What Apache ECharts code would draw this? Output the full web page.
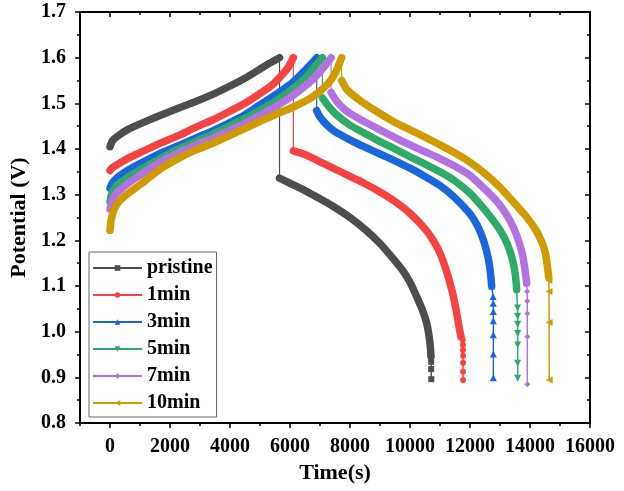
<!DOCTYPE html>
<html>
<head>
<meta charset="utf-8">
<script src="https://cdn.jsdelivr.net/npm/echarts@6/dist/echarts.min.js"></script>
<style>html,body{margin:0;padding:0;background:#fff}#c{width:624px;height:491px}</style>
</head>
<body>
<div id="c"></div>
<script>
// ---- data: [time (s), potential (V)] ----
const names = ['pristine', '1min', '3min', '5min', '7min', '10min'];
const colors = ['#4D4D4D', '#F74242', '#1A66DD', '#2EAA69', '#B372E0', '#D09B00'];
const symbols = ['rect', 'circle', 'triangle', 'triangle', 'diamond', 'triangle'];
const symbolRotations = [0, 0, 0, 180, 0, 90];

const xMajorTicks = [0, 2000, 4000, 6000, 8000, 10000, 12000, 14000, 16000];
const xMinorTicks = [-1000, 1000, 3000, 5000, 7000, 9000, 11000, 13000, 15000];

const pristineCharge = [[0,1.405],[80,1.418],[250,1.428],[600,1.443],[1000,1.455],[1500,1.469],[2000,1.482],[2500,1.495],[3000,1.508],[3500,1.522],[4000,1.538],[4500,1.555],[5000,1.575],[5300,1.587],[5650,1.600]];
const pristineDischarge = [[5650,1.336],[6000,1.325],[6500,1.309],[7000,1.291],[7500,1.272],[8000,1.250],[8500,1.224],[9000,1.193],[9500,1.155],[9800,1.130],[10000,1.108],[10200,1.080],[10400,1.050],[10550,1.020],[10630,0.993],[10680,0.965],[10700,0.945]];
const pristineTail = [[10700,0.945],[10705,0.934],[10705,0.918],[10710,0.896]];

const min1Charge = [[0,1.353],[100,1.360],[300,1.368],[611,1.380],[1000,1.392],[1722,1.414],[2300,1.430],[2833,1.447],[3400,1.463],[3944,1.481],[4500,1.500],[5056,1.524],[5400,1.540],[5700,1.560],[5950,1.580],[6111,1.600]];
const min1Discharge = [[6111,1.396],[6500,1.388],[7000,1.372],[7500,1.356],[8000,1.340],[8500,1.324],[9000,1.306],[9500,1.285],[10000,1.259],[10500,1.225],[10800,1.197],[11000,1.172],[11200,1.136],[11400,1.090],[11550,1.043],[11650,1.005],[11700,0.989]];
const min1Tail = [[11700,0.989],[11760,0.982],[11765,0.971],[11765,0.960],[11770,0.947],[11770,0.932],[11770,0.912],[11770,0.894]];

const min3Charge = [[0,1.314],[80,1.326],[250,1.338],[611,1.354],[1000,1.368],[1722,1.392],[2300,1.408],[2833,1.423],[3400,1.439],[3944,1.456],[4500,1.475],[5000,1.497],[5500,1.518],[6111,1.547],[6500,1.572],[6700,1.586],[6889,1.600]];
const min3Discharge = [[6889,1.484],[7000,1.470],[7222,1.453],[7500,1.438],[8000,1.420],[8500,1.404],[9000,1.389],[9500,1.374],[10000,1.358],[10500,1.340],[11000,1.320],[11500,1.293],[12000,1.258],[12250,1.232],[12450,1.200],[12600,1.163],[12680,1.130],[12722,1.100]];
const min3Tail = [[12722,1.100],[12770,1.077],[12775,1.062],[12778,1.044],[12778,1.024],[12778,0.993],[12778,0.951],[12778,0.899]];

const min5Charge = [[0,1.285],[60,1.302],[200,1.318],[611,1.339],[1000,1.354],[1722,1.381],[2300,1.400],[2833,1.416],[3400,1.432],[3944,1.449],[4500,1.467],[5056,1.487],[5600,1.508],[6111,1.533],[6500,1.555],[6778,1.577],[7080,1.600]];
const min5Discharge = [[7080,1.512],[7222,1.499],[7500,1.478],[8000,1.452],[8500,1.434],[9000,1.416],[9500,1.400],[10000,1.383],[10500,1.367],[11000,1.350],[11500,1.330],[12000,1.303],[12500,1.266],[12900,1.232],[13150,1.205],[13333,1.176],[13450,1.148],[13520,1.120],[13556,1.092]];
const min5Tail = [[13556,1.092],[13585,1.052],[13588,1.034],[13590,1.016],[13590,0.996],[13590,0.971],[13590,0.931],[13590,0.898]];

const min7Charge = [[0,1.268],[60,1.285],[200,1.302],[611,1.325],[1000,1.343],[1722,1.373],[2300,1.392],[2833,1.408],[3400,1.423],[3944,1.439],[4500,1.456],[5056,1.476],[5600,1.496],[6111,1.518],[6600,1.543],[7000,1.569],[7200,1.585],[7370,1.600]];
const min7Discharge = [[7370,1.524],[7550,1.505],[7778,1.489],[8000,1.478],[8500,1.459],[9000,1.442],[9500,1.425],[10000,1.409],[10500,1.394],[11000,1.379],[11500,1.362],[12000,1.342],[12500,1.312],[12900,1.285],[13200,1.258],[13450,1.228],[13650,1.193],[13760,1.165],[13833,1.135],[13889,1.106]];
const min7Tail = [[13889,1.106],[13905,1.088],[13908,1.067],[13910,1.040],[13910,0.989],[13910,0.885]];

const min10Charge = [[0,1.222],[40,1.245],[120,1.265],[300,1.285],[611,1.303],[1000,1.322],[1722,1.358],[2300,1.380],[2833,1.397],[3400,1.412],[3944,1.428],[4500,1.445],[5056,1.462],[5600,1.478],[6111,1.492],[6700,1.512],[7222,1.540],[7500,1.565],[7722,1.600]];
const min10Discharge = [[7722,1.550],[7900,1.530],[8300,1.508],[8800,1.486],[9400,1.462],[10000,1.442],[10500,1.426],[11000,1.409],[11500,1.391],[12000,1.371],[12500,1.346],[13000,1.316],[13500,1.280],[13900,1.250],[14200,1.222],[14400,1.195],[14500,1.176],[14578,1.145],[14620,1.120]];
const min10Tail = [[14620,1.120],[14630,1.112],[14633,1.088],[14638,1.020],[14640,0.894]];

const charges = [pristineCharge, min1Charge, min3Charge, min5Charge, min7Charge, min10Charge];
const discharges = [pristineDischarge, min1Discharge, min3Discharge, min5Discharge, min7Discharge, min10Discharge];
const tails = [pristineTail, min1Tail, min3Tail, min5Tail, min7Tail, min10Tail];

// ---- build ----
const FONT = 'Liberation Serif';
const series = [];
names.forEach((n, i) => {
  const c = colors[i];
  const ch = charges[i], dis = discharges[i];
  series.push({
    name: n, type: 'line', data: tails[i],
    symbol: symbols[i], symbolRotate: symbolRotations[i],
    symbolSize: symbols[i] === 'triangle' ? 7 : 6,
    showAllSymbol: true,
    itemStyle: { color: c }, lineStyle: { color: c, width: 1.5 }, z: 3
  });
  series.push({
    name: n, type: 'line', data: [ch[ch.length - 1], dis[0]],
    symbol: 'none', lineStyle: { color: c, width: 1.2 }, itemStyle: { color: c }, z: 2
  });
  [ch, dis].forEach(d => series.push({
    name: n, type: 'line', data: d, symbol: 'none', smooth: 0.2,
    lineStyle: { color: c, width: 7.5, join: 'round', cap: 'round' }, itemStyle: { color: c }, z: 2
  }));
});

const labelStyle = { fontFamily: FONT, fontWeight: 'bold', fontSize: 20, color: '#000' };
const axLine = { show: true, onZero: false, lineStyle: { color: '#000', width: 2 } };
const base = { type: 'value', min: -1000, max: 16000, splitLine: { show: false } };

const chart = echarts.init(document.getElementById('c'), null, { renderer: 'canvas' });
chart.setOption({
  animation: false,
  backgroundColor: '#fff',
  grid: { left: 80, right: 34, top: 12, bottom: 68 },
  xAxis: [
    Object.assign({}, base, {
      position: 'bottom', axisLine: axLine,
      axisTick: { show: true, inside: false, length: 5, customValues: xMajorTicks, lineStyle: { color: '#000', width: 1.5 } },
      axisLabel: Object.assign({ customValues: xMajorTicks, margin: 14, formatter: v => String(v) }, labelStyle),
      name: 'Time(s)', nameLocation: 'middle', nameGap: 32,
      nameTextStyle: { fontFamily: FONT, fontWeight: 'bold', fontSize: 22, color: '#000' }
    }),
    Object.assign({}, base, {
      position: 'bottom', axisLine: { show: false },
      axisTick: { show: true, inside: false, length: 3, customValues: xMinorTicks, lineStyle: { color: '#000', width: 1.5 } },
      axisLabel: { show: false }
    }),
    Object.assign({}, base, {
      position: 'top', axisLine: axLine,
      axisTick: { show: true, inside: true, length: 5, customValues: xMajorTicks, lineStyle: { color: '#000', width: 1.5 } },
      axisLabel: { show: false }
    }),
    Object.assign({}, base, {
      position: 'top', axisLine: { show: false },
      axisTick: { show: true, inside: true, length: 3, customValues: xMinorTicks, lineStyle: { color: '#000', width: 1.5 } },
      axisLabel: { show: false }
    })
  ],
  yAxis: [
    {
      type: 'value', position: 'left', min: 0.8, max: 1.7, interval: 0.1,
      axisLine: axLine, splitLine: { show: false },
      axisTick: { show: true, inside: false, length: 5, lineStyle: { color: '#000', width: 1.5 } },
      minorTick: { show: true, splitNumber: 2, length: 3, lineStyle: { color: '#000', width: 1.5 } },
      axisLabel: Object.assign({ margin: 14, formatter: v => v.toFixed(1) }, labelStyle),
      name: 'Potential (V)', nameLocation: 'middle', nameGap: 46,
      nameTextStyle: { fontFamily: FONT, fontWeight: 'bold', fontSize: 22, color: '#000' }
    },
    {
      type: 'value', position: 'right', min: 0.8, max: 1.7, interval: 0.1,
      axisLine: axLine, splitLine: { show: false },
      axisTick: { show: true, inside: true, length: 5, lineStyle: { color: '#000', width: 1.5 } },
      minorTick: { show: true, splitNumber: 2, length: 3, lineStyle: { color: '#000', width: 1.5 } },
      axisLabel: { show: false }
    }
  ],
  legend: {
    orient: 'vertical', left: 89, top: 252,
    data: names,
    itemWidth: 49, itemHeight: 7, itemGap: 7,
    padding: [6, 4, 4, 3],
    borderColor: '#666', borderWidth: 1, borderRadius: 0, backgroundColor: '#fff',
    textStyle: { fontFamily: FONT, fontWeight: 'bold', fontSize: 20, lineHeight: 20, color: '#000' }
  },
  series: series
});
</script>
</body>
</html>
